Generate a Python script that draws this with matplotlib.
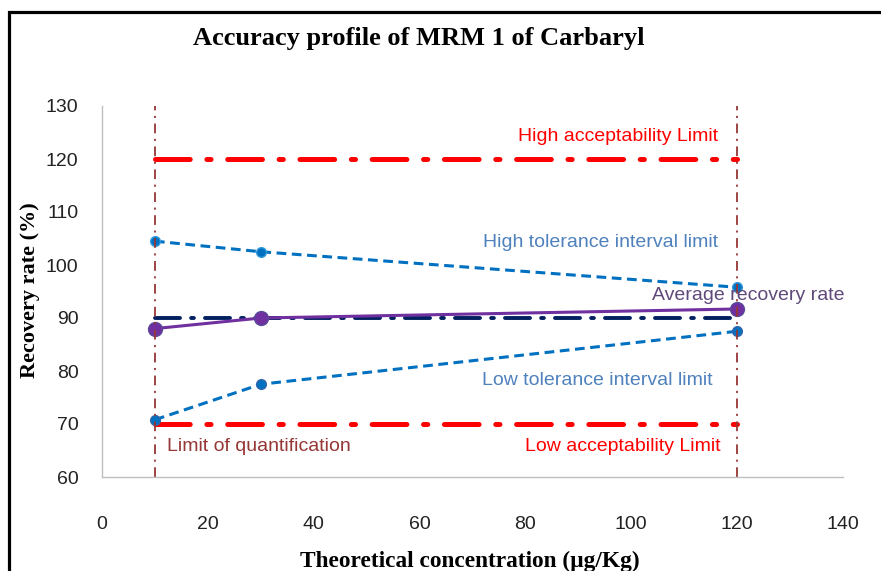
import matplotlib
matplotlib.use("Agg")
import matplotlib.pyplot as plt
from matplotlib.patches import Rectangle

plt.rcParams['lines.scale_dashes'] = False

# Data
conc = [10, 30, 120]
high_tol = [104.5, 102.5, 95.8]
low_tol = [70.8, 77.5, 87.5]
avg_rec = [88.0, 90.0, 91.7]
high_acc = [120, 120]
low_acc = [70, 70]
target = [90, 90]
limits_x = [10, 120]
xticks = [0, 20, 40, 60, 80, 100, 120, 140]
yticks = [60, 70, 80, 90, 100, 110, 120, 130]

fig = plt.figure(figsize=(8.81, 5.71), dpi=100)
ax = fig.add_axes([102/881, 1-477/571, 741/881, 371/571])

# frame border
fig.patches.append(Rectangle((8.5/881, -0.05), 1.2, 1-11.5/571+0.05, transform=fig.transFigure,
                             fill=False, edgecolor='black', linewidth=2.3))

red = '#FF0000'
ax.plot(limits_x, high_acc, color=red, lw=3.6, dashes=(25, 12, 3, 12), dash_capstyle='round')
ax.plot(limits_x, low_acc, color=red, lw=3.6, dashes=(25, 12, 3, 12), dash_capstyle='round')
ax.plot(limits_x, target, color='#002060', lw=2.8, dashes=(18, 8, 2, 8), dash_capstyle='round')
ax.plot(conc, high_tol, color='#0070C0', lw=2.2, dashes=(7, 4), marker='o', ms=7, mfc='#0070C0', mec='#3399DD')
ax.plot(conc, low_tol, color='#0070C0', lw=2.2, dashes=(7, 4), marker='o', ms=7, mfc='#0070C0', mec='#3366AA')
ax.plot(conc, avg_rec, color='#7030A0', lw=2.2, marker='o', ms=10, mfc='#7030A0', mec='#5A4A9A')
for xv in limits_x:
    ax.plot([xv, xv], [60, 130], color='#953735', lw=1.3, dashes=(7, 4, 1.5, 4))

fs = 14
fam = ['Liberation Sans', 'DejaVu Sans']
ax.text(116.4, 124.2, 'High acceptability Limit', color=red, fontsize=fs, ha='right', va='center', family=fam)
ax.text(116.4, 104.2, 'High tolerance interval limit', color='#4F81BD', fontsize=fs, ha='right', va='center', family=fam)
ax.text(103.9, 94.2, 'Average recovery rate', color='#5F497A', fontsize=fs, ha='left', va='center', family=fam)
ax.text(115.3, 78.3, 'Low tolerance interval limit', color='#4F81BD', fontsize=fs, ha='right', va='center', family=fam)
ax.text(116.8, 65.8, 'Low acceptability Limit', color=red, fontsize=fs, ha='right', va='center', family=fam)
ax.text(12.3, 65.8, 'Limit of quantification', color='#953735', fontsize=fs, ha='left', va='center', family=fam)

ax.set_xlim(0, 140)
ax.set_ylim(60, 130)
ax.set_xticks(xticks)
ax.set_yticks(yticks)
for s in ['top', 'right']:
    ax.spines[s].set_visible(False)
for s in ['left', 'bottom']:
    ax.spines[s].set_color('#BFBFBF')
    ax.spines[s].set_linewidth(1.0)
ax.tick_params(axis='x', length=0, pad=28, labelsize=14)
ax.tick_params(axis='y', length=0, pad=17, labelsize=14)
for lab in ax.get_xticklabels() + ax.get_yticklabels():
    lab.set_family(fam)
    lab.set_color('#222222')

fig.text(419/881, 1-38/571, 'Accuracy profile of MRM 1 of Carbaryl', family='Liberation Serif',
         fontweight='bold', fontsize=19, ha='center', va='center')
fig.text(30/881, 1-290/571, 'Recovery rate (%)', family='Liberation Serif', fontweight='bold',
         fontsize=16, rotation=90, ha='center', va='center')
fig.text(470/881, 1-561/571, 'Theoretical concentration (µg/Kg)', family='Liberation Serif',
         fontweight='bold', fontsize=16.8, ha='center', va='center')

fig.savefig('out.png', dpi=100)
